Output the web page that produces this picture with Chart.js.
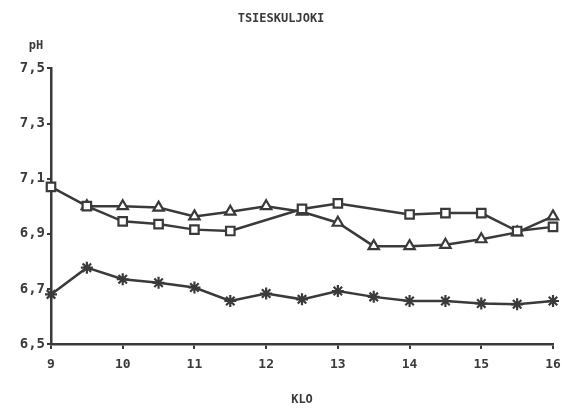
<!DOCTYPE html>
<html>
<head>
<meta charset="utf-8">
<script src="https://cdn.jsdelivr.net/npm/chart.js@4/dist/chart.umd.min.js"></script>
<style>
  html, body { margin: 0; padding: 0; background: #fff; }
  #wrap { width: 562px; height: 411px; position: relative; }
</style>
</head>
<body>
<div id="wrap"><canvas id="myChart"></canvas></div>
<script>
// kellonajat (KLO) ja pH-arvot
var hours = [9, 9.5, 10, 10.5, 11, 11.5, 12, 12.5, 13, 13.5, 14, 14.5, 15, 15.5, 16];
var phSquare = [7.07, 7.00, 6.945, 6.935, 6.915, 6.91, null, 6.99, 7.01, null, 6.97, 6.975, 6.975, 6.91, 6.925];
var phTriangle = [null, 7.00, 7.00, 6.995, 6.963, 6.98, 7.00, 6.98, 6.94, 6.855, 6.855, 6.86, 6.88, 6.905, 6.963];
var phStar = [6.68, 6.777, 6.735, 6.722, 6.705, 6.656, 6.683, 6.662, 6.692, 6.671, 6.656, 6.656, 6.647, 6.644, 6.656];
var yTicks = [6.5, 6.7, 6.9, 7.1, 7.3, 7.5];

var ink = '#3a3a3a';
var fnt = 'DejaVu Sans Mono';

function toPoints(vals) {
    var out = [];
    for (var i = 0; i < hours.length; i++) {
        out.push({ x: hours[i], y: vals[i] });
    }
    return out;
}

function series(label, vals, style) {
    return {
        label: label,
        data: toPoints(vals),
        borderColor: ink,
        backgroundColor: '#fff',
        borderWidth: 2.5,
        pointStyle: style,
        pointRadius: 6,
        pointBorderWidth: 2.2,
        pointBorderColor: ink,
        pointBackgroundColor: '#fff',
        spanGaps: true,
        clip: false,
        tension: 0
    };
}

// "pH" teksti y-akselin ylapuolelle
var phLabel = {
    id: 'phLabel',
    afterDraw: function (chart) {
        var ctx = chart.ctx;
        ctx.save();
        ctx.fillStyle = ink;
        ctx.font = 'bold 12px ' + fnt;
        ctx.textAlign = 'center';
        ctx.textBaseline = 'middle';
        ctx.fillText('pH', 36, 46);
        ctx.restore();
    }
};

const config = {
    type: 'line',
    data: {
        datasets: [
            series('A', phSquare, 'rect'),
            series('B', phTriangle, 'triangle'),
            series('C', phStar, 'star')
        ]
    },
    options: {
        responsive: true, maintainAspectRatio: false,
        animation: false,
        layout: { autoPadding: false, padding: { left: 0, right: 0, top: 0, bottom: 4 } },
        plugins: {
            legend: { display: false },
            tooltip: { enabled: false },
            title: {
                display: true,
                text: 'TSIESKULJOKI',
                color: ink,
                font: { family: fnt, size: 12, weight: 'bold' },
                padding: { top: 12, bottom: 42 }
            }
        },
        scales: {
            x: {
                type: 'linear',
                min: 9, max: 16,
                afterFit: function (s) { s.paddingRight = 9; },
                border: { color: ink, width: 2.5 },
                grid: { drawOnChartArea: false, drawTicks: true, tickLength: 5, color: ink, lineWidth: 2 },
                ticks: {
                    stepSize: 1,
                    color: ink,
                    padding: 8,
                    font: { family: fnt, size: 13, weight: 'bold' }
                },
                title: {
                    display: true,
                    text: 'KLO',
                    color: ink,
                    font: { family: fnt, size: 12, weight: 'bold' },
                    padding: { top: 12, bottom: 0 }
                }
            },
            y: {
                min: 6.5, max: 7.5,
                afterFit: function (s) { s.width = 51; },
                afterBuildTicks: function (s) {
                    s.ticks = yTicks.map(function (v) { return { value: v }; });
                },
                border: { color: ink, width: 2.5 },
                grid: { drawOnChartArea: false, drawTicks: true, tickLength: 4, color: ink, lineWidth: 2 },
                ticks: {
                    color: ink,
                    padding: 2,
                    font: { family: fnt, size: 14, weight: 'bold' },
                    callback: function (v) { return v.toFixed(1).replace('.', ','); }
                }
            }
        }
    },
    plugins: [phLabel]
};

var myChart = new Chart(document.getElementById('myChart'), config);
</script>
</body>
</html>
